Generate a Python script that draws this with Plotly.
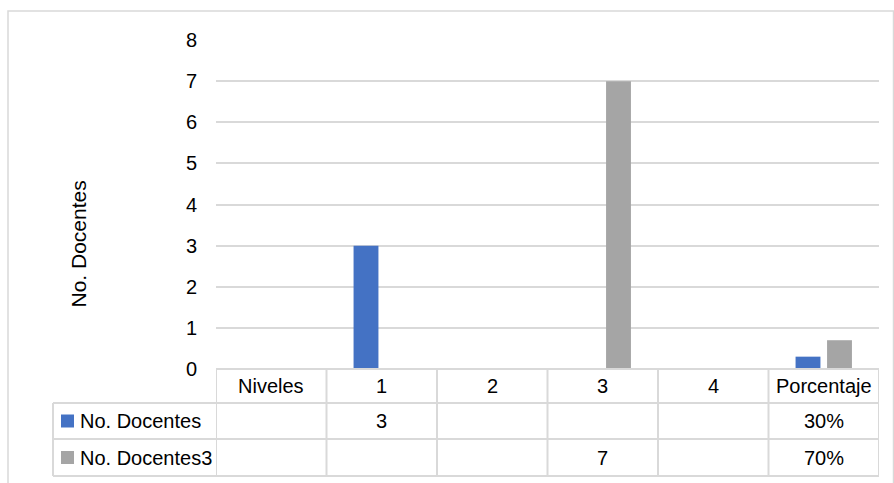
import plotly.graph_objects as go

# Chart data
categories = ["Niveles", "1", "2", "3", "4", "Porcentaje"]
series_names = ["No. Docentes", "No. Docentes3"]
docentes = [None, 3, None, None, None, 0.3]
docentes3 = [None, None, None, 7, None, 0.7]
y_ticks = [0, 1, 2, 3, 4, 5, 6, 7, 8]

colors = ["#4472C4", "#A5A5A5"]
grid = "#D9D9D9"
font_family = "Liberation Sans, Arial, sans-serif"

W, H = 894, 483
L, R, T, B = 216, 15, 40, 114
plot_w = W - L - R
plot_h = H - T - B


def px_x(p):
    return (p - L) / plot_w


def px_y(p):
    return (H - B - p) / plot_h


fig = go.Figure()
for name, vals, col in zip(series_names, [docentes, docentes3], colors):
    fig.add_trace(go.Bar(x=categories, y=vals, name=name, marker_color=col,
                         marker_line_width=0, showlegend=False))

# Data table beneath the axis
row_tops = [369, 403, 439, 476]
legend_left = 53
shapes = []
line = dict(color=grid, width=2)
# horizontal rules
shapes.append(dict(type="line", xref="x", yref="paper", x0=-0.5, x1=len(categories) - 0.5,
                   y0=px_y(row_tops[0]), y1=px_y(row_tops[0]), line=line))
for yy in row_tops[1:]:
    shapes.append(dict(type="line", xref="paper", yref="paper", x0=px_x(legend_left),
                       x1=1, y0=px_y(yy), y1=px_y(yy), line=line))
# vertical rules at category boundaries
for i in range(len(categories) + 1):
    shapes.append(dict(type="line", xref="x", yref="paper", x0=i - 0.5, x1=i - 0.5,
                       y0=px_y(row_tops[0]), y1=px_y(row_tops[-1]), line=line))
shapes.append(dict(type="line", xref="paper", yref="paper", x0=px_x(legend_left),
                   x1=px_x(legend_left), y0=px_y(row_tops[1]), y1=px_y(row_tops[-1]), line=line))
# legend keys
for k, col in enumerate(colors):
    cy = (row_tops[k + 1] + row_tops[k + 2]) / 2
    shapes.append(dict(type="rect", xref="paper", yref="paper", x0=px_x(61), x1=px_x(74),
                       y0=px_y(cy - 6.5), y1=px_y(cy + 6.5), fillcolor=col, line_width=0))
# outer chart border
shapes.append(dict(type="rect", xref="paper", yref="paper", x0=px_x(8), x1=px_x(893.5),
                   y0=px_y(495), y1=px_y(11), line=dict(color=grid, width=1.5),
                   fillcolor="rgba(0,0,0,0)", layer="below"))

annotations = []
tfont = dict(family=font_family, size=20, color="#000000")
hy = (row_tops[0] + row_tops[1]) / 2
for i, c in enumerate(categories):
    annotations.append(dict(x=i, y=px_y(hy), xref="x", yref="paper", text=c,
                            showarrow=False, font=tfont, xanchor="center", yanchor="middle"))


def cell_text(cat, v):
    if v is None:
        return ""
    if cat == "Porcentaje":
        return f"{round(v * 100)}%"
    return f"{v:g}"


for k, (name, vals) in enumerate(zip(series_names, [docentes, docentes3])):
    cy = (row_tops[k + 1] + row_tops[k + 2]) / 2
    annotations.append(dict(x=px_x(78), y=px_y(cy), xref="paper", yref="paper", text=name,
                            showarrow=False, font=tfont, xanchor="left", yanchor="middle"))
    for i, (c, v) in enumerate(zip(categories, vals)):
        t = cell_text(c, v)
        if t:
            annotations.append(dict(x=i, y=px_y(cy), xref="x", yref="paper", text=t,
                                    showarrow=False, font=tfont, xanchor="center",
                                    yanchor="middle"))

# y-axis title
annotations.append(dict(x=px_x(78), y=px_y(244.5), xref="paper", yref="paper",
                        text="No. Docentes", textangle=-90, showarrow=False,
                        font=dict(family=font_family, size=21, color="#000000"),
                        xanchor="center", yanchor="middle"))

fig.update_layout(
    width=W, height=H,
    margin=dict(l=L, r=R, t=T, b=B),
    paper_bgcolor="white", plot_bgcolor="white",
    barmode="group", bargap=0.43, bargroupgap=0.21,
    shapes=shapes, annotations=annotations,
    font=dict(family=font_family, size=20, color="#000000"),
    xaxis=dict(type="category", range=[-0.5, len(categories) - 0.5], showticklabels=False,
               showgrid=False, zeroline=False, showline=False, ticks=""),
    yaxis=dict(range=[0, 8], tickvals=y_ticks, showgrid=True, gridcolor=grid, gridwidth=2,
               zeroline=False, showline=False, ticks="", ticklabelstandoff=18,
               tickfont=dict(family=font_family, size=20, color="#000000")),
)

fig.write_html("out.html")
